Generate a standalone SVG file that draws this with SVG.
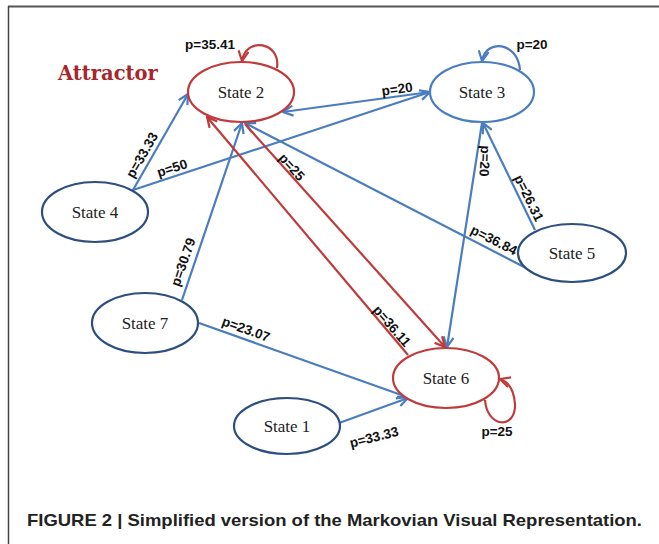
<svg xmlns="http://www.w3.org/2000/svg" width="659" height="544" viewBox="0 0 659 544">
<defs>
<style>
.nodeR{fill:#fff;stroke:#bf3b3b;stroke-width:2.2}
.nodeN{fill:#fff;stroke:#2d4f7f;stroke-width:2.2}
.nodeB{fill:#fff;stroke:#4a7dc0;stroke-width:2.2}
.st{font-family:"Liberation Serif","Times New Roman",serif;font-size:17px;fill:#222;text-anchor:middle}
.eb{fill:none;stroke:#4a7dc0;stroke-width:2.2}
.er{fill:none;stroke:#bf3b3b;stroke-width:2.2}
.ab{marker-end:url(#arrB)}
.ar{marker-end:url(#arrR)}
.lb{font-family:"Liberation Sans",Arial,sans-serif;font-size:13.5px;font-weight:bold;fill:#111;text-anchor:middle}
</style>
<marker id="arrB" viewBox="0 0 12 12" refX="11" refY="6" markerWidth="12" markerHeight="12" markerUnits="userSpaceOnUse" orient="auto">
<path d="M1,1 L11,6 L1,11" fill="none" stroke="#4a7dc0" stroke-width="2.2"/>
</marker>
<marker id="arrR" viewBox="0 0 12 12" refX="11" refY="6" markerWidth="12" markerHeight="12" markerUnits="userSpaceOnUse" orient="auto">
<path d="M1,1 L11,6 L1,11" fill="none" stroke="#bf3b3b" stroke-width="2.2"/>
</marker>
</defs>
<rect x="0" y="0" width="659" height="544" fill="#fff"/>
<g id="frame">
<line x1="8" y1="6.5" x2="659" y2="6.5" stroke="#555" stroke-width="2"/>
<line x1="8.5" y1="6" x2="8.5" y2="544" stroke="#444" stroke-width="1.5"/>
</g>
<g id="connectors">
<path class="eb ab" d="M133,190 L188,94"/>
<path class="eb ab" d="M133,190 L430,92"/>
<path class="eb ab" d="M430,92 L283,112"/>
<path class="eb ab" d="M182,300 L242,123"/>
<path class="eb ab" d="M530,270 L245,123"/>
<path class="eb ab" d="M535,230 L483,123"/>
<path class="eb ab" d="M482,123 L447,347"/>
<path class="er ar" d="M245,124 L445,347"/>
<path class="er ar" d="M408,355 L207,117"/>
<path class="eb ab" d="M199,323 L407,397"/>
<path class="eb ab" d="M339,423 L408,398"/>
<path class="er ar" d="M277,68 C281,42 246,36 242,61"/>
<path class="eb ab" d="M520,70 C518,42 486,38 482,61"/>
<path class="er ar" d="M485,400 C487,428 516,430 515,404 C514,390 509,382 500,379"/>
</g>
<g id="labels">
<text class="lb" x="210" y="49">p=35.41</text>
<text class="lb" x="532" y="49">p=20</text>
<text class="lb" transform="translate(397,89) rotate(-8)" dy="0.35em">p=20</text>
<text class="lb" transform="translate(142,155) rotate(-60)" dy="0.35em">p=33.33</text>
<text class="lb" transform="translate(172,168) rotate(-18)" dy="0.35em">p=50</text>
<text class="lb" transform="translate(292,167) rotate(48)" dy="0.35em">p=25</text>
<text class="lb" transform="translate(183,262) rotate(-71)" dy="0.35em">p=30.79</text>
<text class="lb" transform="translate(494,240) rotate(27)" dy="0.35em">p=36.84</text>
<text class="lb" transform="translate(529,198) rotate(64)" dy="0.35em">p=26.31</text>
<text class="lb" transform="translate(485,161) rotate(93)" dy="0.35em">p=20</text>
<text class="lb" transform="translate(392,326) rotate(49)" dy="0.35em">p=36.11</text>
<text class="lb" transform="translate(246,329) rotate(20)" dy="0.35em">p=23.07</text>
<text class="lb" transform="translate(374,437) rotate(-14)" dy="0.35em">p=33.33</text>
<text class="lb" x="497" y="436">p=25</text>
</g>
<g id="state2"><ellipse class="nodeR" cx="241" cy="92" rx="53" ry="30"/><text class="st" x="241" y="98">State 2</text></g>
<g id="state3"><ellipse class="nodeB" cx="482" cy="92" rx="52" ry="30"/><text class="st" x="482" y="98">State 3</text></g>
<g id="state4"><ellipse class="nodeN" cx="95" cy="212" rx="53" ry="30"/><text class="st" x="95" y="218">State 4</text></g>
<g id="state5"><ellipse class="nodeN" cx="572" cy="253" rx="54" ry="29"/><text class="st" x="572" y="259">State 5</text></g>
<g id="state6"><ellipse class="nodeR" cx="446" cy="378" rx="53" ry="30"/><text class="st" x="446" y="384">State 6</text></g>
<g id="state7"><ellipse class="nodeN" cx="145" cy="323" rx="53" ry="30"/><text class="st" x="145" y="329">State 7</text></g>
<g id="state1"><ellipse class="nodeN" cx="287" cy="426" rx="53" ry="28"/><text class="st" x="287" y="432">State 1</text></g>
<text x="58" y="80" font-family="'DejaVu Serif','Liberation Serif',serif" font-size="19.5" font-weight="bold" fill="#a8262a">Attractor</text>
<text x="27" y="526" font-family="'Liberation Sans',Arial,sans-serif" font-size="17" font-weight="bold" fill="#222" textLength="615" lengthAdjust="spacingAndGlyphs">FIGURE 2 | Simplified version of the Markovian Visual Representation.</text>
</svg>
